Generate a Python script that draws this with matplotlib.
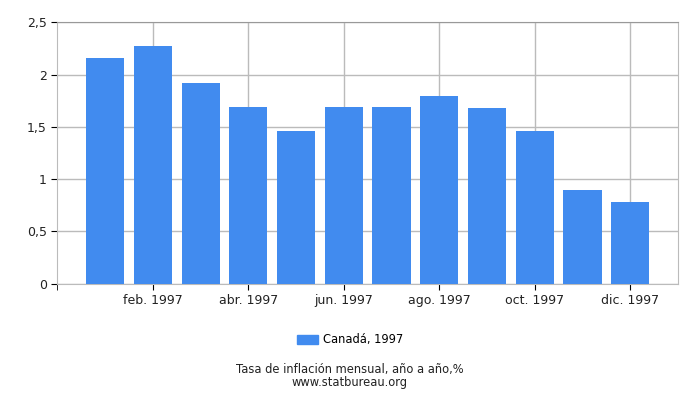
import matplotlib
matplotlib.use('Agg')
import matplotlib.pyplot as plt
from matplotlib.patches import Patch

meses = [1, 2, 3, 4, 5, 6, 7, 8, 9, 10, 11, 12]
valores = [2.16, 2.27, 1.92, 1.69, 1.46, 1.69, 1.69, 1.80, 1.68, 1.46, 0.90, 0.78]
tick_pos = [2, 4, 6, 8, 10, 12]
tick_labels = ['feb. 1997', 'abr. 1997', 'jun. 1997', 'ago. 1997', 'oct. 1997', 'dic. 1997']
y_ticks = [0, 0.5, 1, 1.5, 2, 2.5]
y_labels = ['0', '0,5', '1', '1,5', '2', '2,5']
serie = 'Canadá, 1997'
pie = 'Tasa de inflación mensual, año a año,%\nwww.statbureau.org'

color = '#418bef'
grid = '#bbbbbb'

fig = plt.figure(figsize=(7, 4), dpi=100)
ax = fig.add_axes([0.082, 0.291, 0.8866, 0.653])

ax.bar(meses, valores, width=0.8, color=color, zorder=3)

ax.set_xlim(0, 13)
ax.set_ylim(0, 2.5)
ax.set_xticks(tick_pos)
ax.set_xticklabels(tick_labels, fontsize=9)
ax.set_xticks([0], minor=True)
ax.set_yticks(y_ticks)
ax.set_yticklabels(y_labels, fontsize=9)

ax.grid(True, color=grid, linewidth=1, zorder=0)
ax.tick_params(which='both', direction='out', length=4, color='black', labelcolor='#222222')
for s in ax.spines.values():
    s.set_color(grid)
ax.spines['top'].set_color('#999999')

fig.legend(handles=[Patch(color=color, label=serie)], loc='center',
           bbox_to_anchor=(0.5, 0.15), frameon=False, fontsize=8.3,
           handlelength=1.8, handleheight=0.7, handletextpad=0.4)

# pie de gráfico en dos líneas muy juntas
fig.text(0.5, 0.06, pie, ha='center', va='center', fontsize=8.3,
         color='#222222', linespacing=0.95, multialignment='center')

fig.savefig('out.png', dpi=100)
